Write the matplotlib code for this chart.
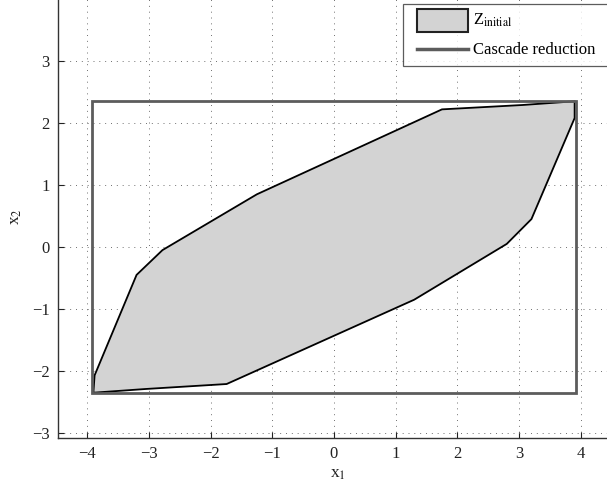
import matplotlib
matplotlib.use("Agg")
import matplotlib.pyplot as plt
from matplotlib.patches import Polygon, Rectangle
from matplotlib.lines import Line2D

plt.rcParams['font.family'] = ['Liberation Serif', 'DejaVu Serif']
plt.rcParams['mathtext.fontset'] = 'stix'

# Vertices of the initial zonotope Z_initial (x1, x2)
zono_x1 = [-3.90, -3.88, -3.20, -2.78, -1.25, 1.75, 3.05, 3.90,
           3.90, 3.20, 2.80, 1.30, -1.74, -3.05]
zono_x2 = [-2.35, -2.07, -0.45, -0.05, 0.85, 2.22, 2.29, 2.35,
           2.08, 0.45, 0.05, -0.85, -2.21, -2.29]

# Box produced by the cascade reduction
box_x1 = [-3.92, 3.92]
box_x2 = [-2.35, 2.35]

xticks = [-4, -3, -2, -1, 0, 1, 2, 3, 4]
yticks = [-3, -2, -1, 0, 1, 2, 3]

ZONO_FACE = '#d3d3d3'
BOX_EDGE = '#5c5c5c'

W, H = 607, 490
fig = plt.figure(figsize=(W / 100, H / 100), dpi=100)

# axes geometry in pixels
px_x0, px_per_x = 334.0, 61.7
px_y0, px_per_y = 247.0, 62.0
xlim = (-4.47, 4.6)
ylim = (-3.08, 4.05)
left = px_x0 + xlim[0] * px_per_x
right = px_x0 + xlim[1] * px_per_x
bottom = px_y0 - ylim[0] * px_per_y
top = px_y0 - ylim[1] * px_per_y
ax = fig.add_axes([left / W, 1 - bottom / H, (right - left) / W, (bottom - top) / H])
ax.set_xlim(*xlim)
ax.set_ylim(*ylim)

ax.add_patch(Polygon(list(zip(zono_x1, zono_x2)), closed=True,
                     facecolor=ZONO_FACE, edgecolor='black', linewidth=1.3, zorder=2))
ax.add_patch(Rectangle((box_x1[0], box_x2[0]), box_x1[1] - box_x1[0], box_x2[1] - box_x2[0],
                       fill=False, edgecolor=BOX_EDGE, linewidth=2.0, zorder=3))

ax.set_xticks(xticks)
ax.set_yticks(yticks)
ax.set_xticklabels([str(t).replace('-', '\u2212') for t in xticks])
ax.set_yticklabels([str(t).replace('-', '\u2212') for t in yticks])
ax.tick_params(direction='in', length=4, width=0.8, colors='#222222',
               labelsize=12, labelcolor='#222222', pad=6)
ax.grid(True, linestyle=(0, (1, 5)), color='#707070', linewidth=0.7)
ax.set_axisbelow(True)
for s in ax.spines.values():
    s.set_color('#333333')
    s.set_linewidth(1.0)

ax.set_xlabel(r'x$_1$', fontsize=12.5, color='#222222', labelpad=3)
ax.set_ylabel(r'x$_2$', fontsize=12.5, color='#222222', labelpad=6)


# legend handles, inset from the left edge of the legend frame and
# positioned relative to the text baseline (y = 0 in handle coordinates)
INSET = 5.0  # points


class BoxHandler:
    def legend_artist(self, legend, orig_handle, fontsize, handlebox):
        w = handlebox.width
        x0 = -handlebox.xdescent
        p = Rectangle((x0 + INSET, -0.45 * fontsize), w - INSET, 1.38 * fontsize,
                      facecolor=ZONO_FACE, edgecolor='#222222', linewidth=1.5,
                      transform=handlebox.get_transform())
        handlebox.add_artist(p)
        return p


class LineHandler:
    def legend_artist(self, legend, orig_handle, fontsize, handlebox):
        w = handlebox.width
        x0 = -handlebox.xdescent
        yc = 0.3 * fontsize
        ln = Line2D([x0 + INSET, x0 + w], [yc, yc], color=BOX_EDGE,
                    linewidth=2.5, transform=handlebox.get_transform())
        handlebox.add_artist(ln)
        return ln


h_box = Rectangle((0, 0), 1, 1)
h_line = Line2D([0], [0])
labels = [r'Z$_{\mathrm{initial}}$', 'Cascade reduction']
leg = fig.legend([h_box, h_line], labels, loc='upper left', mode='expand',
                 bbox_to_anchor=(403 / W, 0, 212 / W, 1 - 4 / H),
                 handler_map={Rectangle: BoxHandler(), Line2D: LineHandler()},
                 fontsize=12, frameon=True, fancybox=False, edgecolor='#333333',
                 handlelength=3.45, handleheight=0.7, handletextpad=0.3,
                 borderpad=0.45, labelspacing=0.8, borderaxespad=0)
leg.get_frame().set_linewidth(0.9)

fig.savefig('out.png', dpi=100)
